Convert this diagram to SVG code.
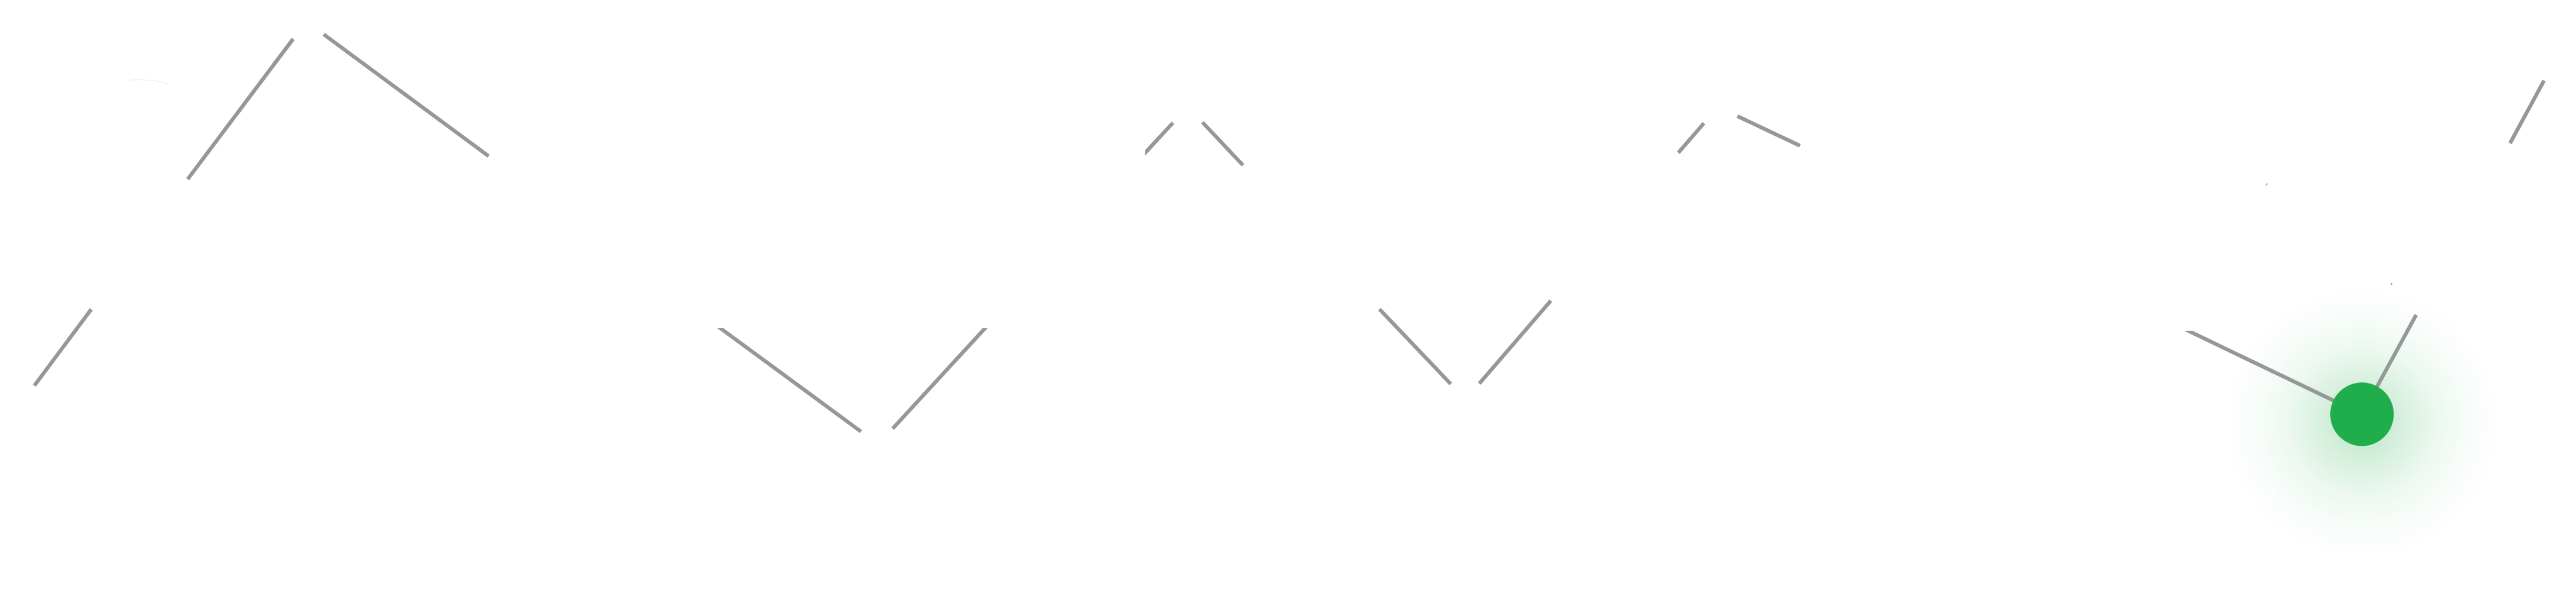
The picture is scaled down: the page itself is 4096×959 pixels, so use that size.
<svg xmlns="http://www.w3.org/2000/svg" width="4096" height="959" viewBox="0 0 4096 959">
  <style>
    .edge { stroke: #96979b; stroke-width: 6; fill: none; stroke-linecap: butt; }
    .faint { stroke: #ececec; stroke-width: 1.2; fill: none; }
    .mark { stroke: #96979b; stroke-width: 1.5; fill: none; }
  </style>
  <defs>
    <radialGradient id="glow" cx="0.5" cy="0.5" r="0.5">
      <stop offset="0" stop-color="#1fae4b" stop-opacity="0.32"/>
      <stop offset="0.25" stop-color="#1fae4b" stop-opacity="0.2"/>
      <stop offset="0.55" stop-color="#1fae4b" stop-opacity="0.08"/>
      <stop offset="0.8" stop-color="#1fae4b" stop-opacity="0.025"/>
      <stop offset="1" stop-color="#1fae4b" stop-opacity="0"/>
    </radialGradient>
    <clipPath id="clipTop45">
      <rect x="0" y="522" width="4096" height="437"/>
    </clipPath>
    <clipPath id="clipLeft6">
      <rect x="1821" y="0" width="2275" height="959"/>
    </clipPath>
    <clipPath id="clipTop12">
      <rect x="0" y="526" width="4096" height="433"/>
    </clipPath>
  </defs>
  <rect width="4096" height="959" fill="#ffffff"/>

  <g id="glow-layer">
    <ellipse cx="3756" cy="672" rx="220" ry="218" fill="url(#glow)"/>
  </g>

  <g id="connectors">
    <path class="faint" d="M201,128 Q235,124 267,133"/>
    <line class="edge" x1="54.7" y1="613.3" x2="145.1" y2="491.9"/>
    <line class="edge" x1="298.4" y1="285" x2="466.1" y2="61.9"/>
    <line class="edge" x1="514.7" y1="54.7" x2="776.9" y2="248.3"/>
    <g clip-path="url(#clipTop45)">
      <line class="edge" x1="1140" y1="518" x2="1369" y2="686.3"/>
      <line class="edge" x1="1570" y1="518" x2="1419.3" y2="681.7"/>
    </g>
    <g clip-path="url(#clipLeft6)">
      <line class="edge" x1="1865.1" y1="195.2" x2="1815" y2="249.5"/>
    </g>
    <line class="edge" x1="1912" y1="194.5" x2="1976.4" y2="262.8"/>
    <line class="edge" x1="2193.5" y1="491.7" x2="2306.8" y2="610.7"/>
    <line class="edge" x1="2352.2" y1="610" x2="2465.9" y2="478.2"/>
    <line class="edge" x1="2668.6" y1="243" x2="2709.4" y2="195.9"/>
    <line class="edge" x1="2762.6" y1="184.7" x2="2862.1" y2="231.8"/>
    <line class="mark" x1="3603" y1="294.7" x2="3605.6" y2="291.8"/>
    <path d="M3802.7,449.6 L3804.3,451.4 L3802.7,453.2 L3801.1,451.4 Z" fill="#96979b"/>
    <line class="edge" x1="4045.2" y1="128.1" x2="3991.2" y2="227.8"/>
    <g clip-path="url(#clipTop12)">
      <line class="edge" x1="3476" y1="524.4" x2="3755.7" y2="658.8"/>
    </g>
    <line class="edge" x1="3841.9" y1="500.7" x2="3755.7" y2="658.8"/>
  </g>

  <g id="node-green">
    <circle cx="3755.7" cy="658.8" r="50.5" fill="#1fae4b"/>
  </g>
</svg>
